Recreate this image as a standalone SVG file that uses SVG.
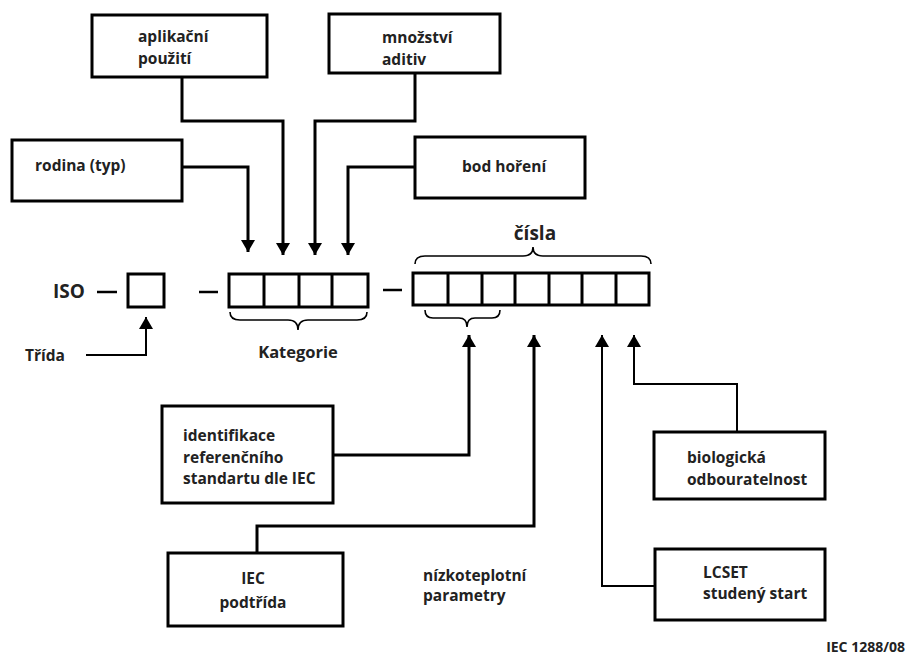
<svg xmlns="http://www.w3.org/2000/svg" width="910" height="658" viewBox="0 0 910 658">
<style>
.box{fill:#fff;stroke:#000;stroke-width:3}
.cell{fill:#fff;stroke:#000;stroke-width:3}
.t{font-family:"Open Sans",Lato,"Liberation Sans",sans-serif;font-weight:bold;font-size:15.5px;fill:#222}
.big{font-size:19px}
.c{fill:none;stroke:#000;stroke-width:3}
.thin{fill:none;stroke:#000;stroke-width:2}
.br{fill:none;stroke:#000;stroke-width:1.6}
</style>
<defs>
<marker id="ah" viewBox="0 0 12 14" refX="12" refY="7" markerWidth="12" markerHeight="14" markerUnits="userSpaceOnUse" orient="auto">
<path d="M0,0 L12,7 L0,14 z" fill="#000"/>
</marker>
</defs>
<rect width="910" height="658" fill="#fff"/>

<g id="connectors">
<path class="c" d="M182,77 V121 H283 V255" marker-end="url(#ah)"/>
<path class="c" d="M415,73 V121 H315 V255" marker-end="url(#ah)"/>
<path class="c" d="M182,167 H248 V252" marker-end="url(#ah)"/>
<path class="c" d="M415,167 H348 V255" marker-end="url(#ah)"/>
<path class="thin" d="M86,355 H146 V317" marker-end="url(#ah)"/>
<path class="c" d="M333,455 H469 V335" marker-end="url(#ah)"/>
<path class="c" d="M257,553 V526 H534 V335" marker-end="url(#ah)"/>
<path class="thin" d="M655,586 H602 V335" marker-end="url(#ah)"/>
<path class="thin" d="M737,432 V384 H634 V335" marker-end="url(#ah)"/>
</g>

<g id="iso">
<text class="t big" x="53" y="298">ISO</text>
<line x1="97" y1="292" x2="117" y2="292" stroke="#000" stroke-width="2.5"/>
<rect class="cell" x="128" y="274" width="36" height="33"/>
</g>

<g id="trida">
<text class="t" x="25" y="361">Třída</text>
</g>

<g id="kategorie">
<line x1="199" y1="292" x2="218" y2="292" stroke="#000" stroke-width="2.5"/>
<rect class="cell" x="229" y="274" width="139" height="33"/>
<line x1="264" y1="274" x2="264" y2="307" stroke="#000" stroke-width="3"/>
<line x1="299" y1="274" x2="299" y2="307" stroke="#000" stroke-width="3"/>
<line x1="332" y1="274" x2="332" y2="307" stroke="#000" stroke-width="3"/>
<path class="br" d="M230,312 Q230,320 240,320 L288,320 Q298,320 298,330 Q298,320 308,320 L357,320 Q367,320 367,312"/>
<text class="t" x="298" y="358" text-anchor="middle" style="font-size:16.5px">Kategorie</text>
</g>

<g id="cisla">
<line x1="383" y1="290" x2="402" y2="290" stroke="#000" stroke-width="2.5"/>
<rect class="cell" x="413" y="273" width="236" height="32"/>
<line x1="448" y1="273" x2="448" y2="305" stroke="#000" stroke-width="3"/>
<line x1="482" y1="273" x2="482" y2="305" stroke="#000" stroke-width="3"/>
<line x1="515" y1="273" x2="515" y2="305" stroke="#000" stroke-width="3"/>
<line x1="549" y1="273" x2="549" y2="305" stroke="#000" stroke-width="3"/>
<line x1="582" y1="273" x2="582" y2="305" stroke="#000" stroke-width="3"/>
<line x1="616" y1="273" x2="616" y2="305" stroke="#000" stroke-width="3"/>
<path class="br" d="M415,264 Q415,256 425,256 L523,256 Q533,256 533,247 Q533,256 543,256 L641,256 Q651,256 651,264"/>
<path class="br" d="M425,310 Q425,318 433,318 L459,318 Q467,318 467,327 Q467,318 475,318 L492,318 Q500,318 500,310"/>
<text class="t big" x="535" y="240" text-anchor="middle">čísla</text>
</g>

<g id="aplikacni">
<rect class="box" x="92" y="15" width="175" height="62"/>
<text class="t" x="138" y="42">aplikační</text>
<text class="t" x="138" y="64">použití</text>
</g>

<g id="mnozstvi">
<rect class="box" x="329" y="14" width="171" height="59"/>
<text class="t" x="382" y="43">množství</text>
<text class="t" x="382" y="65">aditiv</text>
</g>

<g id="rodina">
<rect class="box" x="12" y="140" width="170" height="61"/>
<text class="t" x="35" y="171">rodina (typ)</text>
</g>

<g id="bod">
<rect class="box" x="415" y="137" width="170" height="61"/>
<text class="t" x="462" y="172">bod hoření</text>
</g>

<g id="identifikace">
<rect class="box" x="162" y="406" width="171" height="97"/>
<text class="t" x="183" y="441">identifikace</text>
<text class="t" x="183" y="463">referenčního</text>
<text class="t" x="183" y="484">standartu dle IEC</text>
</g>

<g id="iec">
<rect class="box" x="168" y="553" width="175" height="73"/>
<text class="t" x="253" y="584" text-anchor="middle">IEC</text>
<text class="t" x="253" y="608" text-anchor="middle">podtřída</text>
</g>

<g id="nizko">
<text class="t" x="423" y="581">nízkoteplotní</text>
<text class="t" x="423" y="601">parametry</text>
</g>

<g id="bio">
<rect class="box" x="654" y="432" width="171" height="67"/>
<text class="t" x="687" y="463">biologická</text>
<text class="t" x="687" y="485">odbouratelnost</text>
</g>

<g id="lcset">
<rect class="box" x="655" y="549" width="170" height="71"/>
<text class="t" x="703" y="578">LCSET</text>
<text class="t" x="703" y="599">studený start</text>
</g>

<text class="t" x="905" y="652" text-anchor="end" style="font-size:14px">IEC 1288/08</text>
</svg>
